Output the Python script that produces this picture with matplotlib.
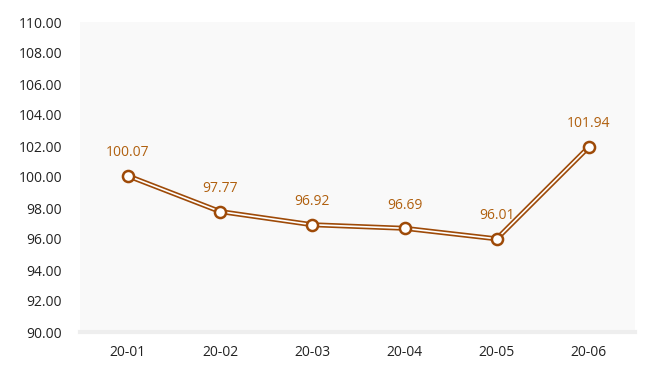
import matplotlib
matplotlib.use("Agg")
import matplotlib.pyplot as plt

categories = ["20-01", "20-02", "20-03", "20-04", "20-05", "20-06"]
values = [100.07, 97.77, 96.92, 96.69, 96.01, 101.94]
yticks = [90, 92, 94, 96, 98, 100, 102, 104, 106, 108, 110]

plt.rcParams['font.family'] = ['Open Sans', 'DejaVu Sans']

fig = plt.figure(figsize=(6.49, 3.67), dpi=100)
ax = fig.add_axes([80/649, 1-332/367, 555/649, 310/367])
ax.set_facecolor('#f9f9f9')

x = list(range(len(categories)))
line_c = '#9e4a08'
label_c = '#b0600f'
ax.plot(x, values, color=line_c, lw=3.6, solid_capstyle='round', zorder=3)
ax.plot(x, values, color='white', lw=1.2, zorder=4)
ax.plot(x, values, ls='none', marker='o', ms=8, mfc='white', mec=line_c, mew=1.8, zorder=5)
for xi, v in zip(x, values):
    ax.annotate(f"{v:.2f}", (xi, v), xytext=(0, 14), textcoords='offset points',
                ha='center', va='baseline', color=label_c, fontsize=10)

ax.set_xlim(-0.52, 5.5)
ax.set_ylim(90, 110)
ax.set_yticks(yticks)
ax.set_yticklabels([f"{t:.2f}" for t in yticks])
ax.set_xticks(x)
ax.set_xticklabels(categories)
for s in ax.spines.values():
    s.set_visible(False)
ax.spines['bottom'].set_visible(True)
ax.spines['bottom'].set_color('#eeeeee')
ax.spines['bottom'].set_linewidth(3)
ax.tick_params(axis='both', length=0, labelsize=10, colors='#222222')
ax.tick_params(axis='y', pad=13)
ax.tick_params(axis='x', pad=9)

fig.savefig("out.png", dpi=100)
